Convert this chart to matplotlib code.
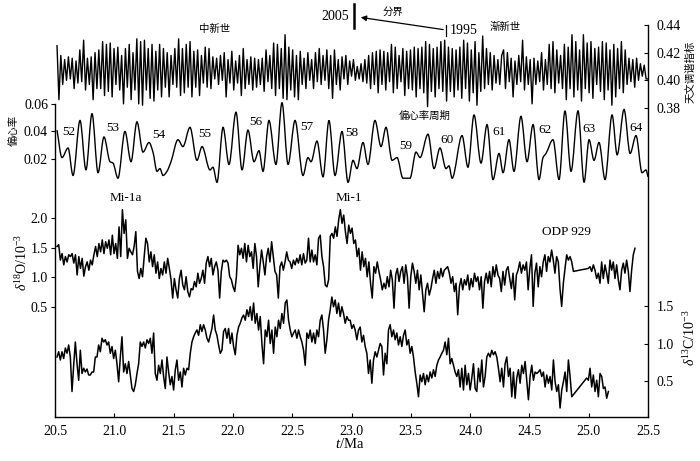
import numpy as np
import matplotlib
matplotlib.use("Agg")
import matplotlib.pyplot as plt
from matplotlib.path import Path
from matplotlib.patches import PathPatch, FancyArrowPatch

plt.rcParams["font.family"] = ["Liberation Serif", "Noto Sans CJK SC"]
plt.rcParams["mathtext.fontset"] = "custom"
plt.rcParams["mathtext.rm"] = "Liberation Serif"
plt.rcParams["mathtext.it"] = "Liberation Serif:italic"

# ---- astronomical tuning index (uniform sampling, 20.52-25.50 Ma)
tune = [
    .425, .386, .418, .397, .415, .400, .417, .401, .416, .394, .414, .398, .422, .399, .429, .393,
    .416, .397, .417, .386, .420, .394, .422, .394, .428, .389, .426, .392, .427, .388, .423, .397,
    .424, .393, .418, .383, .423, .395, .426, .386, .420, .393, .430, .383, .428, .382, .429, .393,
    .423, .387, .426, .385, .421, .393, .426, .388, .423, .395, .420, .388, .418, .397, .423, .395,
    .430, .389, .423, .391, .426, .395, .428, .388, .421, .395, .422, .389, .418, .398, .424, .395,
    .423, .394, .417, .401, .416, .397, .418, .400, .420, .388, .415, .398, .421, .393, .414, .398,
    .418, .389, .423, .394, .415, .397, .417, .393, .416, .395, .415, .397, .416, .392, .422, .399,
    .418, .394, .427, .389, .426, .394, .423, .387, .433, .386, .424, .393, .422, .388, .418, .386,
    .421, .397, .416, .394, .420, .400, .415, .394, .420, .399, .423, .397, .418, .400, .422, .394,
    .418, .387, .422, .397, .415, .393, .417, .401, .418, .397, .414, .403, .415, .400,
    .410, .401, .412, .399, .415, .398, .418, .394, .420, .397, .421, .391, .422, .397, .421, .393,
    .420, .399, .426, .391, .424, .394, .418, .399, .423, .389, .421, .394, .422, .393, .424, .388,
    .423, .394, .424, .391, .428, .381, .426, .392, .423, .388, .424, .394, .428, .392, .429, .385,
    .424, .392, .423, .388, .422, .393, .424, .387, .429, .394, .427, .385, .422, .391, .428, .382,
    .420, .392, .432, .394, .423, .397, .420, .393, .418, .398, .415, .397, .418,
    .422, .394, .420, .399, .416, .388, .414, .397, .418, .399, .429, .393, .417, .397, .415, .383,
    .416, .397, .414, .399, .420, .393, .415, .397, .426, .394, .428, .391, .422, .398, .418, .394,
    .426, .386, .424, .394, .433, .388, .428, .393, .422, .385, .433, .394, .427, .391, .428, .387,
    .423, .397, .424, .392, .428, .386, .427, .393, .422, .382, .426, .388, .423, .394, .428, .391,
    .422, .397, .416, .399, .415, .395, .416, .400, .412, .403, .411, .401, .401,
]
tune_span = (20.517, 25.50)

# ---- eccentricity (peaks, troughs and shoulders)
ecc_t = [
    20.517, 20.559, 20.610, 20.652, 20.711, 20.761, 20.812, 20.863, 20.913, 20.964, 20.989, 21.031,
    21.090, 21.141, 21.191, 21.242, 21.293, 21.326, 21.360, 21.385, 21.411, 21.444, 21.478, 21.537,
    21.579, 21.638, 21.697, 21.740, 21.807, 21.832, 21.866, 21.917, 21.967, 22.026, 22.077, 22.127,
    22.178, 22.220, 22.254, 22.304, 22.363, 22.414, 22.465, 22.524, 22.591, 22.633, 22.659, 22.709,
    22.760, 22.810, 22.861, 22.920, 22.971, 23.013, 23.046, 23.097, 23.139, 23.198, 23.249, 23.291,
    23.342, 23.384, 23.434, 23.493, 23.544, 23.578, 23.645, 23.696, 23.746, 23.797, 23.822, 23.848,
    23.932, 23.982, 24.033, 24.092, 24.143, 24.193, 24.244, 24.278, 24.328, 24.370, 24.429, 24.480,
    24.531, 24.581, 24.615, 24.640, 24.699, 24.750, 24.800, 24.851, 24.910, 24.961, 25.003, 25.045,
    25.087, 25.138, 25.197, 25.240, 25.298, 25.349, 25.399, 25.450, 25.483, 25.500,
]
ecc_v = [
    .041, .021, .028, .008, .048, .012, .053, .010, .036, .018, .017, .006,
    .040, .018, .047, .025, .032, .025, .011, .013, .008, .011, .018, .034,
    .029, .043, .019, .029, .012, .014, .003, .043, .016, .054, .012, .041,
    .018, .026, .011, .048, .016, .061, .016, .048, .008, .021, .018, .033,
    .007, .048, .008, .040, .003, .019, .013, .032, .016, .048, .029, .043,
    .019, .021, .006, .006, .025, .021, .038, .013, .028, .013, .015, .006,
    .037, .014, .052, .017, .045, .005, .024, .010, .034, .011, .051, .018,
    .045, .005, .021, .024, .034, .005, .055, .011, .055, .003, .034, .019,
    .032, .005, .052, .023, .056, .024, .037, .010, .012, .007,
]

# ---- delta 18O (two runs, gap near 24.9 Ma)
o18_a = [
    1.52, 1.55, 1.29, 1.40, 1.21, 1.35, 1.26, 1.38, 1.35, 1.40, 1.24, 1.38, 1.04, 1.35, 1.15, 1.32,
    1.02, 1.18, 1.26, 1.12, 1.29, 1.21, 1.38, 1.52, 1.35, 1.57, 1.43, 1.63, 1.40, 1.60, 1.49, 1.63,
    1.38, 1.71, 1.40, 1.57, 1.32, 1.85, 1.35, 2.14, 1.74, 1.97, 1.32, 1.49, 1.43, 1.38, 1.52, 1.77,
    1.10, 0.98, 1.15, 1.01, 1.35, 1.66, 1.57, 1.26, 1.43, 1.18, 1.38, 1.07, 1.26, 0.98, 1.15, 1.04,
    1.26, 1.07, 1.32, 1.15, 0.96, 0.65, 0.98, 0.79, 0.65, 0.98, 1.12, 0.87, 0.79, 1.01, 0.76, 0.67,
    0.81, 0.79, 0.93, 0.84, 1.07, 0.90, 0.98, 1.12, 0.90, 1.24, 1.35, 1.18, 1.32, 1.04, 1.18, 1.26,
    1.12, 0.65, 1.10, 1.29, 1.26, 1.29, 1.24, 1.01, 0.96, 0.84, 0.76, 1.01, 1.54, 1.38, 1.49, 1.32,
    1.57, 1.26, 1.54, 1.35, 1.43, 1.15, 1.57, 1.35, 0.84, 1.18, 1.46, 1.26, 1.04, 1.35, 1.49, 1.26,
    1.60, 1.35, 1.10, 1.04, 0.65, 1.18, 1.26, 1.12, 1.26, 1.43, 1.29, 1.26, 1.15, 1.29, 1.21, 1.32,
    1.24, 1.38, 1.21, 1.40, 1.24, 1.29, 1.66, 1.26, 1.46, 1.26, 1.38, 1.21, 1.66, 1.71, 1.35, 1.18,
    0.87, 0.84, 0.96, 1.69, 1.74, 1.66, 1.85, 1.69, 1.97, 2.14, 1.91, 2.05, 1.77, 1.57,
    1.88, 1.74, 1.83, 1.57, 1.63, 1.35, 1.49, 1.12, 1.43, 1.18, 1.32, 1.01, 1.26, 0.90, 0.65, 1.18,
    1.07, 1.26, 1.10, 0.96, 0.79, 0.90, 0.81, 1.01, 0.84, 1.12, 0.96, 0.48, 1.04, 1.15, 0.93, 1.10,
    1.18, 0.90, 1.21, 1.01, 0.48, 1.01, 1.24, 1.10, 0.90, 1.12, 0.79, 1.04, 0.73, 0.42, 0.79, 0.90,
    0.70, 0.81, 0.98, 1.12, 0.90, 1.10, 0.98, 1.15, 1.01, 1.12, 1.15, 1.18, 1.07, 0.90, 1.01, 0.76,
    0.90, 0.37, 0.84, 0.98, 0.79, 0.96, 0.87, 1.04, 0.79, 0.98, 0.84, 1.07, 0.93, 1.01, 0.79, 1.01,
    0.48, 0.93, 1.07, 0.90, 1.10, 0.84, 1.18, 1.01, 1.21, 1.04, 0.98, 0.76, 1.10, 0.87, 1.12, 1.18,
    0.98, 0.81, 1.07, 0.62, 1.04, 1.12, 1.26, 1.07, 1.21, 1.12, 1.26, 0.79, 1.15, 1.38, 0.51, 1.07,
    1.24, 0.84, 1.18, 1.01, 1.26, 1.38, 1.10, 1.35, 1.26, 1.46, 1.29, 1.07, 1.35, 1.26, 0.81, 0.51,
    0.90, 1.15, 1.38, 1.29, 1.35, 1.26, 1.10,
]
o18_b = [
    1.15, 1.18, 1.10, 1.21, 1.12, 0.98, 1.07, 0.90, 1.26, 0.98, 1.21, 1.07, 0.90, 1.29, 1.12, 1.26,
    0.98, 1.21, 0.96, 0.79, 1.12, 1.24, 1.07, 1.29, 1.10, 0.76, 1.12, 1.38, 1.49,
]
o18_span_a = (20.517, 24.871)
o18_span_b = (24.997, 25.390)

# ---- delta 13C (two runs, gap near 24.9 Ma)
c13_a = [
    0.82, 0.89, 0.78, 0.89, 0.80, 0.94, 0.87, 0.98, 0.82, 0.36, 0.71, 1.02, 0.73, 0.51, 0.91, 0.60,
    0.67, 0.62, 0.66, 0.58, 0.58, 0.62, 0.62, 0.82, 0.82, 0.98, 0.89, 1.07, 1.02, 1.05, 0.98, 1.02,
    0.87, 0.96, 0.80, 0.91, 0.73, 0.49, 0.82, 1.09, 0.62, 0.73, 0.60, 0.76, 0.58, 0.40, 0.36, 0.45,
    0.60, 0.73, 1.02, 0.96, 1.02, 0.94, 1.05, 1.00, 1.07, 0.87, 1.14, 0.60, 0.51, 0.71, 0.60, 0.78,
    0.56, 0.40, 0.82, 0.62, 0.45, 0.56, 0.38, 0.65, 0.78, 0.51, 0.62, 0.42, 0.67, 0.58, 0.67, 0.65,
    0.87, 1.02, 1.09, 1.14, 1.18, 1.11, 1.25, 1.16, 1.25, 1.18, 1.07, 1.02, 1.11, 1.20, 1.38, 1.18,
    1.11, 0.98, 0.87, 0.91, 1.16, 1.20, 1.07, 1.20, 1.00, 1.14, 0.96, 0.85, 1.11, 1.22, 1.27, 1.34,
    1.38, 1.31, 1.45,
    1.36, 1.49, 1.31, 1.54, 1.27, 1.40, 1.18, 1.36, 1.00, 0.73, 1.18, 1.09, 1.31, 1.00, 1.18, 0.87,
    1.22, 1.09, 1.31, 1.20, 1.40, 1.27, 1.54, 1.58, 1.31, 1.18, 1.09, 1.14, 1.18, 1.07, 1.18, 1.09,
    1.02, 0.91, 0.71, 1.14, 1.07, 1.18, 1.02, 1.14, 1.00, 1.18, 1.09, 1.31, 1.38, 1.18, 0.87, 1.05,
    1.31, 1.45, 1.62, 1.49, 1.58, 1.40, 1.54, 1.36, 1.49, 1.40, 1.27, 1.36, 1.31,
    1.31, 1.20, 1.25, 1.18, 1.05, 1.18, 1.22, 1.02, 1.11, 0.96, 0.87, 0.60, 0.78, 0.47, 0.78, 0.89,
    0.82, 0.91, 1.00, 0.96, 0.58, 0.87, 0.73, 1.18, 1.25, 1.09, 1.18, 1.05, 1.14, 0.98, 1.09, 0.96,
    1.11, 1.18, 0.98, 1.05, 0.87, 0.96, 0.82, 0.62, 0.47, 0.29, 0.58, 0.49, 0.60, 0.45, 0.58, 0.49,
    0.62, 0.54, 0.65, 0.56, 0.71, 0.78, 0.82, 0.87, 0.91, 1.02, 0.85, 1.07, 0.73, 0.80, 0.71, 0.62,
    0.56, 0.65, 0.42, 0.67, 0.38, 0.71, 0.45, 0.60, 0.38, 0.54, 0.73, 0.40, 0.36, 0.67, 0.49, 0.78,
    0.42, 0.56, 0.82, 0.87, 0.82, 0.91, 0.85, 0.89, 0.82, 0.67, 0.49, 0.67, 0.42, 0.73, 0.82, 0.56,
    0.67, 0.29, 0.62, 0.27, 0.54, 0.65, 0.47, 0.71, 0.60, 0.76, 0.51, 0.25, 0.56, 0.71, 0.51, 0.62,
    0.60, 0.62, 0.65, 0.56, 0.62, 0.42, 0.58, 0.47, 0.56, 0.38, 0.78, 0.49, 0.36, 0.45, 0.14, 0.38,
    0.49, 0.62, 0.36, 0.78, 0.56, 0.29,
]
c13_b = [0.54, 0.51, 0.67, 0.42, 0.58, 0.36, 0.51, 0.29, 0.60, 0.56, 0.40, 0.42, 0.27, 0.36]
c13_span_a = (20.517, 24.857)
c13_span_b = (24.983, 25.166)

xticks = [20.5, 21.0, 21.5, 22.0, 22.5, 23.0, 23.5, 24.0, 24.5, 25.0, 25.5]
cycles = ["52", "53", "54", "55", "56", "57", "58", "59", "60", "61", "62", "63", "64"]
cycle_xy = [(69, 132), (113, 128), (159, 135), (205, 134), (256, 122), (307, 127), (352, 133),
            (406, 146), (447, 140), (499, 132), (545, 130), (589, 129), (636, 128)]

W, H = 700, 461
fig = plt.figure(figsize=(W / 100, H / 100), dpi=100)


def fp(x, y):
    return x / W, 1 - y / H


def smooth_path(x, y):
    """Cubic Hermite (monotone tangents) drawn as Bezier segments through the read points."""
    x = np.asarray(x, float)
    y = np.asarray(y, float)
    d = np.diff(y) / np.diff(x)
    m = np.zeros_like(y)
    for i in range(1, len(y) - 1):
        if d[i - 1] * d[i] > 0:
            m[i] = 2 / (1 / d[i - 1] + 1 / d[i])
    m[0], m[-1] = d[0], d[-1]
    verts = [(x[0], y[0])]
    codes = [Path.MOVETO]
    for i in range(len(x) - 1):
        h = (x[i + 1] - x[i]) / 3
        verts += [(x[i] + h, y[i] + m[i] * h), (x[i + 1] - h, y[i + 1] - m[i + 1] * h),
                  (x[i + 1], y[i + 1])]
        codes += [Path.CURVE4] * 3
    return Path(verts, codes)


rect = [55 / W, 44 / H, 593 / W, 392 / H]
ax_tune = fig.add_axes(rect)
ax_ecc = fig.add_axes(rect)
ax_o18 = fig.add_axes(rect)
ax_c13 = fig.add_axes(rect)
axes = [ax_tune, ax_ecc, ax_o18, ax_c13]
for a in axes:
    a.patch.set_visible(False)
    a.set_xlim(20.5, 25.5)
    for s in a.spines.values():
        s.set_visible(False)
    a.tick_params(which="both", left=False, right=False, bottom=False, top=False,
                  labelleft=False, labelright=False, labelbottom=False)

lk = dict(color="black", lw=1.1)
ax_tune.plot(np.linspace(*tune_span, len(tune)), tune, color="black", lw=1.0)
ax_ecc.add_patch(PathPatch(smooth_path(ecc_t, ecc_v), facecolor="none", edgecolor="black", lw=1.0))
ax_o18.plot(np.linspace(*o18_span_a, len(o18_a)).tolist() + np.linspace(*o18_span_b, len(o18_b)).tolist(),
            o18_a + o18_b, **lk)
ax_c13.plot(np.linspace(*c13_span_a, len(c13_a)).tolist() + np.linspace(*c13_span_b, len(c13_b)).tolist(),
            c13_a + c13_b, **lk)

ax_tune.set_ylim(0.1566, 0.44)
ax_ecc.set_ylim(-0.1676, 0.1174)
ax_o18.set_ylim(-1.354, 5.253)
ax_c13.set_ylim(0.02, 5.2467)

# bottom axis
ax_tune.spines["bottom"].set_visible(True)
ax_tune.set_xticks(xticks)
ax_tune.set_xticklabels([f"{v:.1f}" for v in xticks])
ax_tune.tick_params(axis="x", bottom=True, labelbottom=True, direction="in",
                    length=3, pad=6, labelsize=10)
# right spine / ticks
ax_tune.spines["right"].set_visible(True)
ax_tune.yaxis.set_ticks_position("right")
ax_tune.set_yticks([0.38, 0.40, 0.42, 0.44])
ax_tune.tick_params(axis="y", right=True, labelright=True, direction="in",
                    length=3, pad=6, labelsize=10)
ax_c13.yaxis.set_ticks_position("right")
ax_c13.set_yticks([0.5, 1.0, 1.5])
ax_c13.tick_params(axis="y", right=True, labelright=True, direction="in",
                   length=3, pad=6, labelsize=10)
# left spine / ticks
ax_ecc.spines["left"].set_visible(True)
ax_ecc.spines["left"].set_bounds(-0.1676, 0.06)
ax_ecc.set_yticks([0.02, 0.04, 0.06])
ax_ecc.tick_params(axis="y", left=True, labelleft=True, direction="out",
                   length=3, pad=2, labelsize=10)
ax_o18.set_yticks([0.5, 1.0, 1.5, 2.0])
ax_o18.tick_params(axis="y", left=True, labelleft=True, direction="out",
                   length=3, pad=2, labelsize=10)
for a in axes:
    for s in a.spines.values():
        s.set_linewidth(1.0)

cjk = ["Noto Sans CJK SC", "DejaVu Sans"]
fig.text(*fp(350, 444), "$t$/Ma", ha="center", va="center", fontsize=10.5)
fig.text(*fp(22, 262), r"$\delta^{18}$O/10$^{-3}$", rotation=90, ha="center", va="center", fontsize=10)
fig.text(*fp(690, 338), r"$\delta^{13}$C/10$^{-3}$", rotation=90, ha="center", va="center", fontsize=10)
fig.text(*fp(14, 130), "偏心率", rotation=90, ha="center", va="center", fontsize=7.5, family=cjk)
fig.text(*fp(691, 72), "天文调谐指标", rotation=90, ha="center", va="center", fontsize=7.5, family=cjk)
fig.text(*fp(215, 29), "中新世", ha="center", va="center", fontsize=7.5, family=cjk)
fig.text(*fp(505, 27), "渐新世", ha="center", va="center", fontsize=7.5, family=cjk)
fig.text(*fp(393, 12), "分界", ha="center", va="center", fontsize=7.5, family=cjk)
fig.text(*fp(425, 116), "偏心率周期", ha="center", va="center", fontsize=7.5, family=cjk)
fig.text(*fp(335, 16), "2005", ha="center", va="center", fontsize=10)
fig.text(*fp(464, 31), "1995", ha="center", va="center", fontsize=10)
fig.text(*fp(126, 198), "Mi-1a", ha="center", va="center", fontsize=9.5)
fig.text(*fp(349, 198), "Mi-1", ha="center", va="center", fontsize=9.5)
fig.text(*fp(566, 232), "ODP 929", ha="center", va="center", fontsize=9.5)
for lab, (x, y) in zip(cycles, cycle_xy):
    fig.text(*fp(x, y), lab, ha="center", va="center", fontsize=9.5)

# boundary marks
fig.add_artist(plt.Line2D([354 / W, 354 / W], [1 - 4 / H, 1 - 28 / H], color="black", lw=1.8))
fig.add_artist(plt.Line2D([446 / W, 446 / W], [1 - 25 / H, 1 - 36 / H], color="black", lw=0.9))
fig.add_artist(FancyArrowPatch(
    fp(446, 30), fp(358, 17), transform=fig.transFigure, arrowstyle="-|>",
    mutation_scale=8, lw=0.9, color="black"))

fig.savefig("out.png", dpi=100)
